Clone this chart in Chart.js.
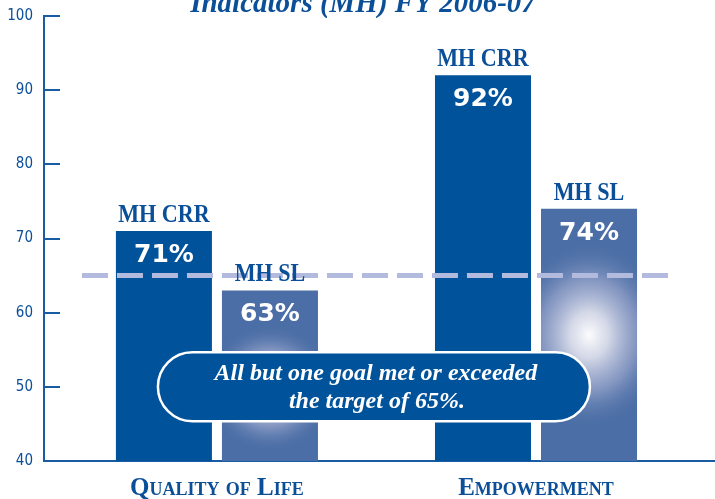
<!DOCTYPE html>
<html>
<head>
<meta charset="utf-8">
<script src="https://cdn.jsdelivr.net/npm/chart.js@4.4.1/dist/chart.umd.min.js"></script>
<style>
    html, body { margin: 0; padding: 0; background: #fff; }
    #wrap { width: 715px; height: 499px; }
</style>
</head>
<body>
<div id="wrap"><canvas id="myChart" width="715" height="499"></canvas></div>
<script>
// data
const categories = ['Quality of Life', 'Empowerment'];
const seriesNames = ['MH CRR', 'MH SL'];
const crrValues = [71, 92];
const slValues = [63, 74];
const yTicks = [40, 50, 60, 70, 80, 90, 100];
const target = 65;
const titleText = 'Indicators (MH) FY 2006-07';
const noteLines = ['All but one goal met or exceeded', 'the target of 65%.'];

// look
const BLUE = '#00529b';
const SL_BLUE = '#4b6ea6';
const INK = '#0b4f98';
const AXIS = '#1a5ca3';
const DASH = '#b2badd';
const serif = "'Liberation Serif', 'Times New Roman', serif";
const narrow = "'Liberation Sans Narrow', 'DejaVu Sans Condensed', sans-serif";

// light spot on each MH SL bar: y value of its centre, and its radii in px
const glowAt = [49.8, 57];
const glowSize = [[66, 64], [80, 94]];
const noteAt = { x: 0.492, y: 50 };
const targetSpan = [-0.423, 1.42];

function toPoints(values) {
    return values.map((v, i) => ({ x: i, y: v }));
}

function narrowText(ctx, text, x, y, squeeze) {
    ctx.save();
    ctx.translate(x, y);
    ctx.scale(squeeze, 1);
    ctx.fillText(text, 0, 0);
    ctx.restore();
}

const overlay = {
    id: 'overlay',
    afterDatasetsDraw(chart) {
        const ctx = chart.ctx;
        const x = chart.scales.x;
        const y = chart.scales.y;
        const area = chart.chartArea;

        // soft light spot on the MH SL bars
        chart.getDatasetMeta(1).data.forEach((bar, i) => {
            const left = bar.x - bar.width / 2;
            const bottom = Math.min(bar.base, area.bottom);
            const cy = y.getPixelForValue(glowAt[i]);
            const [rx, ry] = glowSize[i];
            ctx.save();
            ctx.beginPath();
            ctx.rect(left, bar.y, bar.width, bottom - bar.y);
            ctx.clip();
            ctx.translate(bar.x, cy);
            ctx.scale(1, ry / rx);
            const g = ctx.createRadialGradient(0, 0, 0, 0, 0, rx);
            g.addColorStop(0, 'rgba(252,252,253,1)');
            g.addColorStop(0.25, 'rgba(222,224,236,0.92)');
            g.addColorStop(0.6, 'rgba(168,176,210,0.6)');
            g.addColorStop(1, 'rgba(75,110,166,0)');
            ctx.fillStyle = g;
            ctx.fillRect(-rx, -rx, rx * 2, rx * 2);
            ctx.restore();
        });

        // dashed target line
        const ty = y.getPixelForValue(target);
        ctx.save();
        ctx.strokeStyle = DASH;
        ctx.lineWidth = 5;
        ctx.setLineDash([26, 9]);
        ctx.beginPath();
        ctx.moveTo(x.getPixelForValue(targetSpan[0]), ty);
        ctx.lineTo(x.getPixelForValue(targetSpan[1]), ty);
        ctx.stroke();
        ctx.restore();

        // series name above each bar, value inside
        chart.data.datasets.forEach((ds, d) => {
            chart.getDatasetMeta(d).data.forEach((bar, i) => {
                ctx.save();
                ctx.textAlign = 'center';
                ctx.textBaseline = 'alphabetic';
                ctx.fillStyle = INK;
                ctx.font = 'bold 26px ' + serif;
                narrowText(ctx, ds.label, bar.x, bar.y - 9, 0.85);
                ctx.fillStyle = '#fff';
                ctx.font = "bold 25px 'DejaVu Sans', sans-serif";
                ctx.fillText(ds.data[i].y + '%', bar.x, bar.y + 31);
                ctx.restore();
            });
        });

        // rounded note box
        const cx = x.getPixelForValue(noteAt.x);
        const cy = y.getPixelForValue(noteAt.y);
        const w = 432, h = 69, r = h / 2;
        ctx.save();
        ctx.beginPath();
        ctx.moveTo(cx - w / 2 + r, cy - r);
        ctx.lineTo(cx + w / 2 - r, cy - r);
        ctx.arc(cx + w / 2 - r, cy, r, -Math.PI / 2, Math.PI / 2);
        ctx.lineTo(cx - w / 2 + r, cy + r);
        ctx.arc(cx - w / 2 + r, cy, r, Math.PI / 2, Math.PI * 1.5);
        ctx.closePath();
        ctx.fillStyle = BLUE;
        ctx.fill();
        ctx.strokeStyle = '#fff';
        ctx.lineWidth = 2.5;
        ctx.stroke();
        ctx.fillStyle = '#fff';
        ctx.textAlign = 'center';
        ctx.font = 'italic bold 24px ' + serif;
        ctx.fillText(noteLines[0], cx + 2, cy - 7);
        ctx.fillText(noteLines[1], cx + 3, cy + 21);
        ctx.restore();
    },
    afterDraw(chart) {
        const ctx = chart.ctx;
        ctx.save();
        ctx.fillStyle = INK;
        ctx.textAlign = 'center';
        ctx.font = 'italic bold 29px ' + serif;
        ctx.fillText(titleText, 363, 12);
        ctx.restore();
    }
};

const ctx = document.getElementById('myChart').getContext('2d');

const myChart = new Chart(ctx, {
    type: 'bar',
    data: {
        datasets: [{
            label: seriesNames[0],
            data: toPoints(crrValues),
            backgroundColor: BLUE,
            borderWidth: 0
        },
        {
            label: seriesNames[1],
            data: toPoints(slValues),
            backgroundColor: SL_BLUE,
            borderWidth: 0
        }]
    },
    options: {
        responsive: false,
        animation: false,
        categoryPercentage: 0.6646,
        barPercentage: 0.9057,
        layout: { padding: { top: 16, right: 0, left: 0, bottom: 0 } },
        plugins: {
            legend: { display: false },
            tooltip: { enabled: false }
        },
        scales: {
            x: {
                type: 'linear',
                bounds: 'data',
                offset: false,
                min: -0.542,
                max: 1.561,
                afterBuildTicks: s => { s.ticks = categories.map((c, i) => ({ value: i })); },
                afterFit: s => { s.height = 38; s.paddingLeft = 0; s.paddingRight = 0; },
                grid: { display: false, drawTicks: false, offset: false },
                border: { color: AXIS, width: 2 },
                ticks: {
                    autoSkip: false,
                    maxRotation: 0,
                    padding: 13,
                    color: INK,
                    font: { family: serif, size: 25, weight: 'small-caps bold' },
                    callback: v => categories[v]
                }
            },
            y: {
                min: 40,
                max: 100,
                afterBuildTicks: s => { s.ticks = yTicks.map(v => ({ value: v })); },
                afterFit: s => { s.width = 44; s.paddingTop = 0; s.paddingBottom = 0; },
                grid: { drawOnChartArea: false, drawTicks: true, tickLength: -16, color: AXIS, lineWidth: 2 },
                border: { color: AXIS, width: 2 },
                ticks: {
                    padding: 27,
                    color: INK,
                    font: { family: narrow, size: 15 }
                }
            }
        }
    },
    plugins: [overlay]
});
</script>
</body>
</html>
